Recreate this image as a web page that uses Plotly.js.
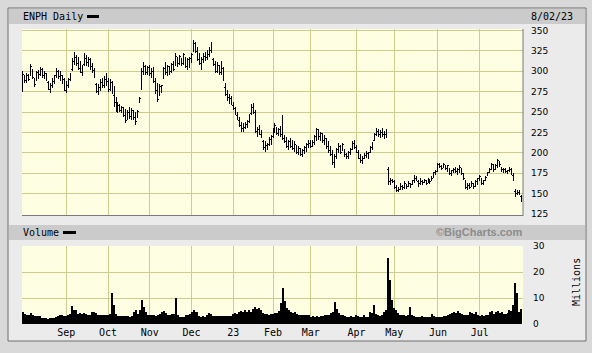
<!DOCTYPE html>
<html>
<head>
<meta charset="utf-8">
<script src="https://cdn.plot.ly/plotly-3.0.1.min.js"></script>
<style>html,body{margin:0;padding:0;background:#d9d9d9;}#chart{width:592px;height:353px;}
.ohlc path{shape-rendering:crispEdges;}</style>
</head>
<body>
<div id="chart"></div>
<script>
// ENPH daily, trading days from 2022-08-02 (index 0) to 2023-08-02 (index 251)
const priceHigh = [300,296,298,297,309,303,292,300,302,305, 304,300,298,288,286,292,296,304,302,300,
  296,292,288,292,298,316,324,320,318,312, 308,322,320,318,316,310,304,286,284,290,
  292,294,298,292,290,288,282,268,262,260, 258,256,254,252,256,255,252,250,253,268,
  304,311,308,306,308,304,305,292,286,284, 283,305,311,308,306,310,312,322,318,320,
  316,322,318,316,318,322,338,336,330,322, 318,322,324,326,330,336,316,312,311,308,
  312,305,285,277,272,270,262,256,250,244, 238,236,238,240,248,260,261,252,232,234,
  228,216,214,212,220,222,230,236,232,230, 233,246,222,219,216,218,216,214,209,208,
  206,205,208,212,216,216,216,222,231,229, 226,224,222,218,214,208,203,198,206,212,
  210,212,205,200,202,206,214,216,210,204, 198,196,200,202,201,208,213,224,231,229,
  228,230,227,229,183,169,168,167,160,158, 163,160,165,162,165,163,167,173,171,167,
  169,167,168,167,169,168,171,177,179,188, 188,185,188,185,185,181,179,181,183,181,
  185,181,175,167,163,163,165,163,167,169, 173,169,167,171,177,181,188,186,186,192,
  190,183,181,181,179,183,181,175,156,155, 154,148];
const priceLow = [274,286,285,288,294,290,281,288,290,294, 292,290,288,277,273,280,284,292,290,288,
  284,276,273,280,288,300,308,306,302,298, 294,306,307,305,302,298,292,273,271,276,
  280,280,282,274,276,272,256,250,249,250, 249,244,236,240,242,240,240,234,243,261,
  277,296,295,296,294,292,286,272,262,270, 273,290,296,294,295,298,300,306,305,308,
  306,308,304,302,304,310,324,322,312,308, 302,310,312,314,318,322,306,298,298,296,
  295,288,270,263,260,259,252,246,240,232, 226,226,229,230,236,246,248,224,220,222,
  218,204,201,203,208,210,218,224,222,221, 220,216,212,206,203,206,204,201,198,197,
  196,195,198,201,206,206,207,210,215,216, 214,212,209,205,200,196,185,181,192,200,
  198,202,195,192,193,197,204,205,200,192, 187,186,192,194,193,200,204,214,221,219,
  218,220,217,218,161,160,163,156,152,152, 154,154,156,156,158,157,160,163,165,158,
  160,160,163,160,163,162,165,169,173,177, 181,179,181,179,177,173,171,175,175,173,
  175,173,167,156,155,156,158,156,158,160, 165,160,160,165,171,175,179,177,179,181,
  183,177,175,175,174,177,173,165,146,148, 148,140];
const priceOpen = [276,292,287,294,295,301,290,289,297,296, 302,295,297,286,278,283,288,295,300,293,
  295,290,276,283,290,302,312,317,309,303, 299,308,316,311,314,306,301,284,275,280,
  286,282,290,288,278,286,270,262,255,257, 252,254,246,242,250,245,250,242,244,262,
  280,298,305,298,305,296,302,285,274,270, 278,292,302,298,304,300,306,308,316,310,
  314,311,316,305,312,315,326,333,324,314, 310,314,318,317,321,326,314,308,300,307,
  298,303,280,272,268,267,258,254,246,240, 234,230,231,235,238,248,256,250,226,228,
  222,214,206,209,210,216,220,226,230,224, 228,240,218,214,209,212,208,205,207,201,
  204,198,202,205,209,211,209,213,219,227, 221,223,216,217,208,202,197,188,194,203,
  207,203,204,197,195,200,206,212,206,201, 193,190,193,197,199,201,206,215,222,226,
  223,225,222,223,180,165,166,165,157,154, 155,159,158,162,159,162,161,166,168,165,
  162,165,164,166,163,166,166,170,175,178, 186,183,182,185,182,180,174,177,179,176,
  178,180,173,166,158,160,159,162,160,164, 166,168,163,166,172,176,180,185,180,183,
  189,182,178,179,177,178,179,172,152,150, 151,146];
const priceClose = [296,289,295,290,306,292,284,298,293,303, 296,298,290,280,284,290,294,302,294,297,
  286,278,284,290,296,314,318,310,304,300, 306,318,310,316,304,300,294,276,282,288,
  283,292,285,277,288,274,258,256,258,252, 256,246,240,250,244,252,243,238,251,266,
  300,306,298,304,297,300,288,276,265,281, 282,303,298,306,300,308,302,318,309,318,
  310,320,306,314,316,320,334,325,315,312, 316,320,316,322,328,324,310,300,309,298,
  308,291,274,266,270,262,255,248,242,234, 230,232,236,238,246,258,250,226,229,224,
  220,206,210,207,218,220,228,233,224,228, 222,218,214,208,214,208,205,210,200,205,
  198,203,206,210,212,208,213,220,228,220, 224,215,218,208,203,198,188,195,204,208,
  200,210,198,195,200,204,212,207,202,194, 190,194,198,200,196,206,212,222,226,224,
  226,222,224,222,164,166,164,158,154,156, 160,157,163,158,163,160,165,168,166,161,
  166,163,166,162,167,165,169,176,177,186, 183,181,186,181,184,175,178,180,177,179,
  182,175,169,158,160,158,163,159,165,168, 171,162,166,170,176,180,186,179,184,190,
  186,179,180,177,178,181,176,168,150,152, 150,141];
// volume in millions
const volume = [4.8,3.8,3.5,3.6,4.1,3.4,3.2,3.0,3.1,2.9, 2.4,2.2,2.3,2.1,2.2,2.3,2.2,2.8,2.9,3.5,
  3.4,3.2,2.9,3.3,4.0,7.1,5.2,5.5,4.0,4.2, 3.8,4.4,3.9,3.5,3.3,4.5,4.8,4.2,3.6,3.5,
  3.3,3.5,3.4,3.6,3.8,11.9,7.5,4.0,3.2,3.0, 3.1,2.9,3.2,3.0,2.8,3.1,4.6,5.2,4.0,5.5,
  9.3,6.5,4.5,3.6,3.3,3.4,3.5,3.2,3.6,3.8, 4.6,5.0,4.2,3.6,3.4,3.8,4.0,10.0,3.6,2.6,
  2.8,2.7,3.3,3.5,3.8,4.6,5.2,4.8,4.6,3.0, 2.8,2.9,2.8,3.4,4.2,4.0,3.0,3.2,3.0,2.9,
  3.1,3.0,3.2,3.0,3.2,3.1,3.8,4.2,4.0,4.6, 5.0,4.6,5.2,4.8,5.2,4.6,5.8,6.4,5.6,6.2,
  5.4,4.2,3.8,4.0,3.6,3.9,3.8,4.3,4.4,5.0, 8.0,13.8,8.7,6.0,5.4,4.6,4.2,4.8,4.0,3.6,
  3.5,3.4,3.6,3.5,3.3,2.8,2.9,2.7,3.0,2.8, 2.9,3.0,3.6,3.4,3.5,4.2,4.5,8.4,5.8,4.2,
  3.6,3.4,3.0,2.8,2.6,2.9,2.7,2.8,3.5,3.0, 2.8,2.6,3.3,2.8,2.7,4.6,4.2,7.4,4.0,3.4,
  3.2,3.6,4.8,5.5,25.5,17.0,9.3,6.0,5.2,4.2, 3.6,3.4,3.3,3.2,3.5,6.7,3.4,3.0,2.8,2.7,
  2.8,2.9,2.7,2.8,2.6,2.8,3.8,3.0,2.6,2.7, 2.6,2.8,3.0,3.1,3.4,3.8,4.4,4.8,4.2,5.0,
  4.4,3.8,3.5,3.4,3.6,4.8,4.4,3.8,4.6,3.6, 3.2,3.4,3.0,3.3,3.6,4.6,5.0,4.0,4.6,5.0,
  4.2,4.6,3.8,4.0,4.2,5.4,5.0,7.4,15.8,11.9, 4.8,5.8];
const monthIdx = [22,43,64,85,106,126,145,168,187,209,230];
const monthLabels = ['Sep','Oct','Nov','Dec','23','Feb','Mar','Apr','May','Jun','Jul'];
const priceTicks = [125,150,175,200,225,250,275,300,325,350];
const volumeTicks = [0,10,20,30];
const chartTitle = 'ENPH Daily';
const chartDate = '8/02/23';

const dayIndex = priceHigh.map((_, i) => i);

// pixel -> paper helpers (plot area 22..523 x 29..324)
const L = 22, R = 523, T = 29, B = 324;
const P = x => (x - L) / (R - L);
const Q = y => (B - y) / (B - T);

const grid = '#cccc8c';
const traces = [
  {type:'ohlc', x:dayIndex, open:priceOpen, high:priceHigh, low:priceLow, close:priceClose,
   xaxis:'x', yaxis:'y', tickwidth:0.5,
   increasing:{line:{color:'#000', width:1}}, decreasing:{line:{color:'#000', width:1}},
   hoverinfo:'skip'},
  {type:'bar', x:dayIndex, y:volume, xaxis:'x', yaxis:'y2',
   marker:{color:'#000', line:{width:0}}, hoverinfo:'skip'}
];

const rect = (x0,y0,x1,y1,fill,layer,line) => ({type:'rect', xref:'paper', yref:'paper',
  x0:P(x0), x1:P(x1), y0:Q(y1), y1:Q(y0), fillcolor:fill, layer:layer||'below',
  line: line || {width:0}});
const seg = (x0,y0,x1,y1,color) => ({type:'line', xref:'paper', yref:'paper',
  x0:P(x0), x1:P(x1), y0:Q(y0), y1:Q(y1), layer:'above', line:{color:color, width:1}});

const shapes = [
  rect(8,8,586,341,'#ebebeb','below',{color:'#6e6e6e', width:1}),
  rect(9,9,585,24,'#cbcbcb'),
  rect(9,225,585,240,'#cbcbcb'),
  rect(22,29,523,215,'#fefee3'),
  rect(22,246,523,324,'#fefee3'),
  seg(523,29,523,216,'#7a7a7a'),
  seg(22,215.5,523,215.5,'#7a7a7a'),
  rect(87,15,99,18,'#000','above'),
  rect(63,231,76,234,'#000','above')
];

const mono = 'DejaVu Sans Mono, monospace';
const ann = (text,x,y,xanchor,font,extra) => Object.assign({text:text, xref:'paper', yref:'paper',
  x:P(x), y:Q(y), xanchor:xanchor, yanchor:'middle', showarrow:false, font:font}, extra||{});

const annotations = [
  ann(chartTitle, 21, 16.5, 'left', {family:mono, size:10, color:'#000'}),
  ann(chartDate, 575, 16.5, 'right', {family:mono, size:10, color:'#000'}),
  ann('Volume', 21, 232.5, 'left', {family:mono, size:10, color:'#000'}),
  ann('<b>©BigCharts.com</b>', 525, 232, 'right', {family:'Liberation Sans, Arial, sans-serif', size:11, color:'#8c8c8c'}),
  ann('Millions', 576, 282, 'center', {family:mono, size:10, color:'#000'}, {textangle:-90})
];

const tickFont = {family:'DejaVu Sans, sans-serif', size:9, color:'#000'};
const layout = {
  width:592, height:353, autosize:false,
  margin:{l:L, r:592-R, t:T, b:353-B, pad:0},
  paper_bgcolor:'#d9d9d9', plot_bgcolor:'rgba(0,0,0,0)',
  showlegend:false, bargap:0, dragmode:false,
  xaxis:{range:[-0.3,251.8], anchor:'y2', tickmode:'array', tickvals:monthIdx, ticktext:monthLabels,
    showgrid:true, gridcolor:grid, gridwidth:1, zeroline:false, showline:false, ticks:'',
    tickfont:{family:mono, size:10, color:'#000'}, rangeslider:{visible:false}, fixedrange:true,
    ticklabelstandoff:1},
  yaxis:{domain:[Q(215),1], range:[123.8,351.8], side:'right', anchor:'x', tickmode:'array',
    tickvals:priceTicks, showgrid:true, gridcolor:grid, gridwidth:1, zeroline:false, showline:false,
    ticks:'', tickfont:tickFont, ticklabelstandoff:7, fixedrange:true},
  yaxis2:{domain:[0,Q(246)], range:[0,30], side:'right', anchor:'x', tickmode:'array',
    tickvals:volumeTicks, showgrid:true, gridcolor:grid, gridwidth:1, zeroline:false, showline:false,
    ticks:'', tickfont:tickFont, ticklabelstandoff:9, fixedrange:true},
  shapes:shapes, annotations:annotations
};

Plotly.newPlot('chart', traces, layout, {displayModeBar:false, staticPlot:true});
</script>
</body>
</html>
